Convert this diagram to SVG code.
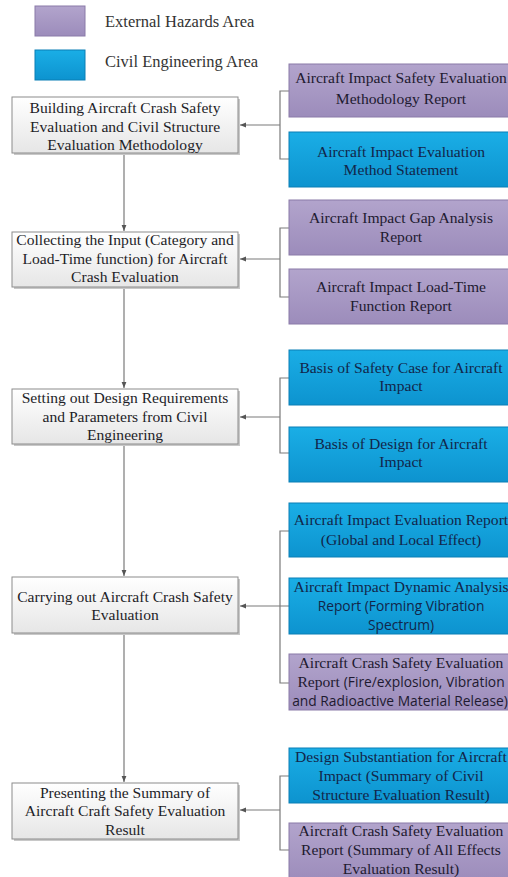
<svg xmlns="http://www.w3.org/2000/svg" width="508" height="877" viewBox="0 0 508 877" font-family="'Liberation Serif', 'DejaVu Serif', serif">
<defs>
<linearGradient id="gW" x1="0" y1="0" x2="0" y2="1"><stop offset="0" stop-color="#ffffff"/><stop offset="1" stop-color="#e6e6e6"/></linearGradient>
<linearGradient id="gP" x1="0" y1="0" x2="0" y2="1"><stop offset="0" stop-color="#b2a4cc"/><stop offset="1" stop-color="#9c8cbb"/></linearGradient>
<linearGradient id="gB" x1="0" y1="0" x2="0" y2="1"><stop offset="0" stop-color="#1aaee6"/><stop offset="1" stop-color="#0d93cf"/></linearGradient>
<marker id="ah" viewBox="0 0 10 10" refX="10" refY="5" markerWidth="5" markerHeight="5" orient="auto"><path d="M0,1 L10,5 L0,9 z" fill="#555"/></marker>
</defs>
<style>
text{font-size:15.6px;text-anchor:middle}
.lt{text-anchor:start;fill:#333;font-size:16.5px}
.w{fill:url(#gW);stroke:#8c8c8c;stroke-width:1}
.p{fill:url(#gP);stroke:#8a7aa8;stroke-width:1}
.b{fill:url(#gB);stroke:#0a7fb5;stroke-width:1}
.sh{fill:#c8c8c8}
.tw{fill:#1e1e28}
.tp{fill:#1e1a30}
.tb{fill:#12264a}
.s{font-family:'Open Sans', 'Liberation Sans', sans-serif;font-size:13.8px}
.c{fill:none;stroke:#7a7a7a;stroke-width:1.2}
</style>
<g id="legend">
<rect x="35" y="6" width="50" height="30" class="p"/>
<text x="105" y="27" class="lt">External Hazards Area</text>
<rect x="35" y="50" width="50" height="30" class="b"/>
<text x="105" y="67" class="lt">Civil Engineering Area</text>
</g>
<g id="connectors">
<path class="c" d="M124,153 V231" marker-end="url(#ah)"/>
<path class="c" d="M124,287 V388" marker-end="url(#ah)"/>
<path class="c" d="M124,444 V576" marker-end="url(#ah)"/>
<path class="c" d="M124,633 V782" marker-end="url(#ah)"/>
<path class="c" d="M289,91 H280 V159 H289"/>
<path class="c" d="M280,125 H240" marker-end="url(#ah)"/>
<path class="c" d="M289,228 H280 V297 H289"/>
<path class="c" d="M280,259 H240" marker-end="url(#ah)"/>
<path class="c" d="M289,378 H280 V453 H289"/>
<path class="c" d="M280,417 H240" marker-end="url(#ah)"/>
<path class="c" d="M289,531 H280 V683 H289"/>
<path class="c" d="M289,606 H240" marker-end="url(#ah)"/>
<path class="c" d="M289,776 H280 V850 H289"/>
<path class="c" d="M280,810 H240" marker-end="url(#ah)"/>
</g>
<g id="n1"><rect x="14" y="99" width="226" height="56" class="sh"/><rect x="12" y="97" width="226" height="56" class="w"/>
<text class="tw" x="125" y="113">Building Aircraft Crash Safety</text>
<text class="tw" x="125" y="132">Evaluation and Civil Structure</text>
<text class="tw" x="125" y="150">Evaluation  Methodology</text></g>
<g id="n2"><rect x="14" y="234" width="226" height="55" class="sh"/><rect x="12" y="232" width="226" height="55" class="w"/>
<text class="tw" x="125" y="245">Collecting the Input (Category and</text>
<text class="tw" x="125" y="264">Load-Time function) for Aircraft</text>
<text class="tw" x="125" y="282">Crash Evaluation</text></g>
<g id="n3"><rect x="14" y="391" width="226" height="55" class="sh"/><rect x="12" y="389" width="226" height="55" class="w"/>
<text class="tw" x="125" y="403">Setting out Design Requirements</text>
<text class="tw" x="125" y="422">and Parameters from Civil</text>
<text class="tw" x="125" y="440">Engineering</text></g>
<g id="n4"><rect x="14" y="579" width="226" height="56" class="sh"/><rect x="12" y="577" width="226" height="56" class="w"/>
<text class="tw" x="125" y="602">Carrying out Aircraft Crash Safety</text>
<text class="tw" x="125" y="620">Evaluation</text></g>
<g id="n5"><rect x="14" y="785" width="226" height="56" class="sh"/><rect x="12" y="783" width="226" height="56" class="w"/>
<text class="tw" x="125" y="798">Presenting the Summary of</text>
<text class="tw" x="125" y="816">Aircraft Craft Safety Evaluation</text>
<text class="tw" x="125" y="835">Result</text></g>
<g id="r1"><rect x="289" y="64" width="224" height="53" class="p"/>
<text class="tp" x="401" y="83">Aircraft Impact Safety Evaluation</text>
<text class="tp" x="401" y="104">Methodology Report</text></g>
<g id="r2"><rect x="289" y="132" width="224" height="55" class="b"/>
<text class="tb" x="401" y="157">Aircraft Impact Evaluation</text>
<text class="tb" x="401" y="175">Method Statement</text></g>
<g id="r3"><rect x="289" y="200" width="224" height="55" class="p"/>
<text class="tp" x="401" y="223">Aircraft Impact Gap Analysis</text>
<text class="tp" x="401" y="242">Report</text></g>
<g id="r4"><rect x="289" y="269" width="224" height="55" class="p"/>
<text class="tp" x="401" y="292">Aircraft Impact Load-Time</text>
<text class="tp" x="401" y="311">Function Report</text></g>
<g id="r5"><rect x="289" y="350" width="224" height="55" class="b"/>
<text class="tb" x="401" y="373">Basis of Safety Case for Aircraft</text>
<text class="tb" x="401" y="391">Impact</text></g>
<g id="r6"><rect x="289" y="427" width="224" height="55" class="b"/>
<text class="tb" x="401" y="449">Basis of Design for Aircraft</text>
<text class="tb" x="401" y="467">Impact</text></g>
<g id="r7"><rect x="289" y="503" width="224" height="54" class="b"/>
<text class="tb" x="401" y="525">Aircraft Impact Evaluation Report</text>
<text class="tb" x="401" y="545">(Global and Local Effect)</text></g>
<g id="r8"><rect x="289" y="578" width="224" height="56" class="b"/>
<text class="tb" x="401" y="592">Aircraft Impact Dynamic Analysis</text>
<text class="tb s" x="401" y="611">Report (Forming Vibration</text>
<text class="tb s" x="401" y="630">Spectrum)</text></g>
<g id="r9"><rect x="289" y="654" width="224" height="56" class="p"/>
<text class="tp" x="401" y="668">Aircraft Crash Safety Evaluation</text>
<text class="tp" x="401" y="687">Report  <tspan class="s">(Fire/explosion, Vibration</tspan></text>
<text class="tp s" x="400" y="706">and Radioactive Material Release)</text></g>
<g id="r10"><rect x="289" y="748" width="224" height="55" class="b"/>
<text class="tb" x="401" y="762">Design Substantiation for Aircraft</text>
<text class="tb" x="401" y="781">Impact (Summary of Civil</text>
<text class="tb" x="401" y="800">Structure Evaluation Result)</text></g>
<g id="r11"><rect x="289" y="823" width="224" height="58" class="p"/>
<text class="tp" x="401" y="836">Aircraft Crash Safety Evaluation</text>
<text class="tp" x="401" y="855">Report (Summary of All Effects</text>
<text class="tp" x="401" y="874">Evaluation Result)</text></g>
</svg>
